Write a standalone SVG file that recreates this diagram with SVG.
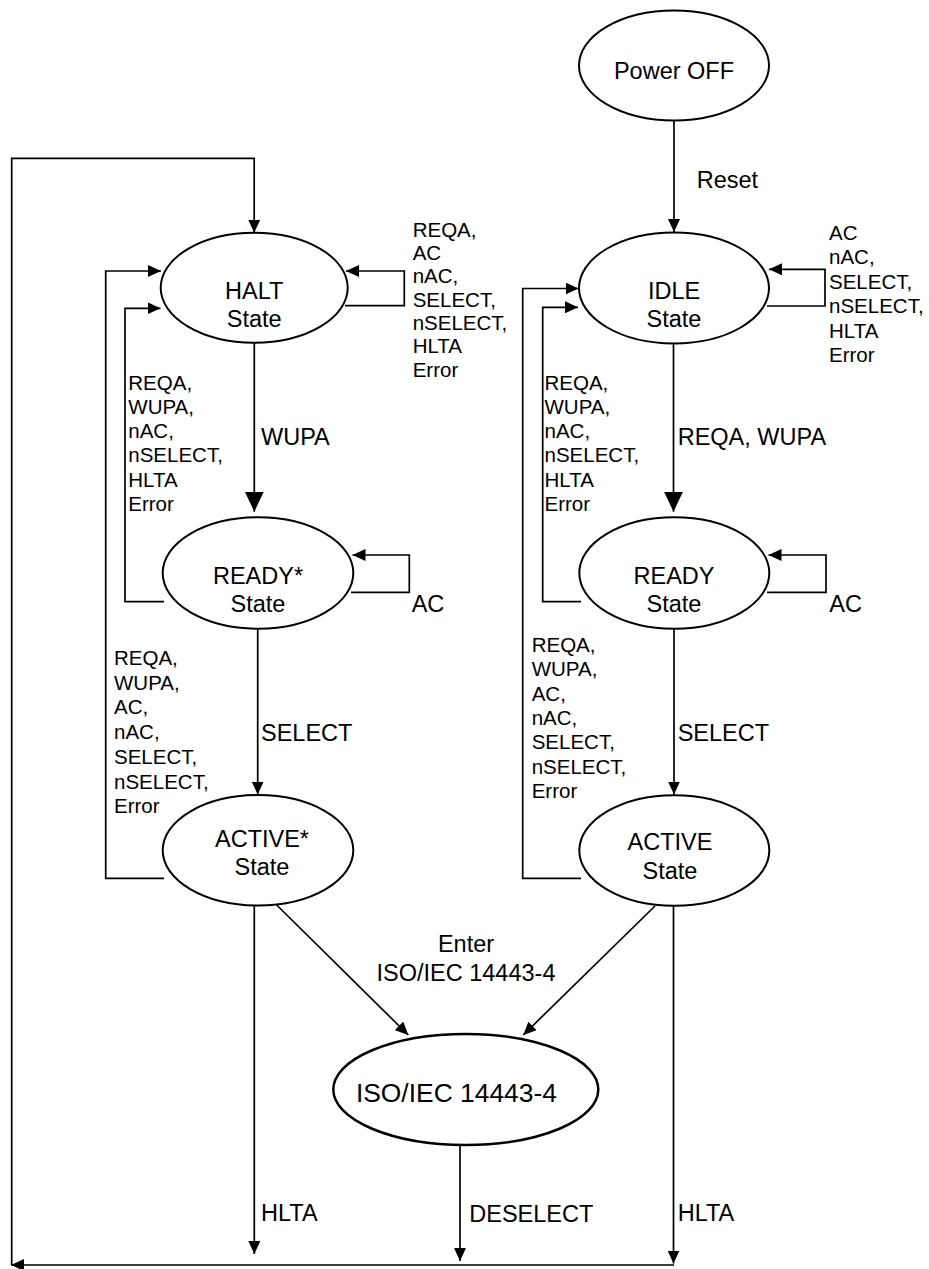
<svg xmlns="http://www.w3.org/2000/svg" width="929" height="1269" viewBox="0 0 929 1269">
<style>
.st{fill:#fff;stroke:#000;stroke-width:2}
.nt{font-family:"Liberation Sans",Arial,sans-serif;font-size:23.5px;fill:#000;text-anchor:middle}
.c{fill:none;stroke:#000;stroke-width:1.7}
.lb{font-family:"Liberation Sans",Arial,sans-serif;font-size:23.5px;fill:#000}
.ls{font-family:"Liberation Sans",Arial,sans-serif;font-size:20.5px;fill:#000}
</style>
<defs>
<marker id="ah" markerUnits="userSpaceOnUse" markerWidth="13" markerHeight="12" viewBox="0 0 13 12" refX="13" refY="6" orient="auto"><path d="M0,0 L13,6 L0,12 Z" fill="#000"/></marker>
<marker id="ahb" markerUnits="userSpaceOnUse" markerWidth="20" markerHeight="19" viewBox="0 0 20 19" refX="20" refY="9.5" orient="auto"><path d="M0,0 L20,9.5 L0,19 Z" fill="#000"/></marker>
</defs>
<rect width="929" height="1269" fill="#fff"/>

<g id="connectors">
<path class="c" d="M674,121 V232" marker-end="url(#ah)"/>
<path class="c" d="M673.5,343.5 V511.7" marker-end="url(#ahb)"/>
<path class="c" d="M254.3,342.7 V511.7" marker-end="url(#ahb)"/>
<path class="c" d="M257.7,628.7 V794.5" marker-end="url(#ah)"/>
<path class="c" d="M674,628.7 V794.5" marker-end="url(#ah)"/>
<path class="c" d="M345,305.7 H404.3 V271 H346" marker-end="url(#ah)"/>
<path class="c" d="M767,306 H825 V269.3 H769" marker-end="url(#ah)"/>
<path class="c" d="M351,592.3 H409.3 V555 H352.5" marker-end="url(#ah)"/>
<path class="c" d="M767,592.3 H826 V555 H768.5" marker-end="url(#ah)"/>
<path class="c" d="M164,601.7 H125 V308.3 H160.5" marker-end="url(#ah)"/>
<path class="c" d="M164,878.3 H105.7 V271 H161" marker-end="url(#ah)"/>
<path class="c" d="M581,601.7 H542.7 V307.3 H578" marker-end="url(#ah)"/>
<path class="c" d="M581,878.3 H522.7 V288.5 H578.5" marker-end="url(#ah)"/>
<path class="c" d="M276.7,905 L408.3,1035" marker-end="url(#ah)"/>
<path class="c" d="M655,906 L523.3,1035" marker-end="url(#ah)"/>
<path class="c" d="M254.3,906 V1254" marker-end="url(#ah)"/>
<path class="c" d="M460,1145 V1261" marker-end="url(#ah)"/>
<path class="c" d="M673.5,906 V1263.5" marker-end="url(#ah)"/>
<path class="c" d="M674,1265 H11" marker-end="url(#ah)"/>
<path class="c" d="M11.7,1265 V158.3 H254.2 V232.7" marker-end="url(#ah)"/>
</g>

<g id="labels">
<text class="lb" x="696.7" y="188">Reset</text>
<text class="lb" x="261" y="445">WUPA</text>
<text class="lb" x="677.7" y="445">REQA, WUPA</text>
<text class="lb" x="411.7" y="612.3">AC</text>
<text class="lb" x="829.3" y="612">AC</text>
<text class="lb" x="261" y="740.7">SELECT</text>
<text class="lb" x="677.7" y="740.7">SELECT</text>
<text class="lb" x="466" y="951.7" text-anchor="middle">Enter</text>
<text class="lb" x="466" y="980.7" text-anchor="middle">ISO/IEC 14443-4</text>
<text class="lb" x="261" y="1220.7">HLTA</text>
<text class="lb" x="469.3" y="1221.7">DESELECT</text>
<text class="lb" x="677.7" y="1221">HLTA</text>
<text class="ls" x="412.7" y="236.7">REQA,<tspan x="412.7" dy="23.3">AC</tspan><tspan x="412.7" dy="23.3">nAC,</tspan><tspan x="412.7" dy="23.3">SELECT,</tspan><tspan x="412.7" dy="23.3">nSELECT,</tspan><tspan x="412.7" dy="23.3">HLTA</tspan><tspan x="412.7" dy="23.3">Error</tspan></text>
<text class="ls" x="829" y="240">AC<tspan x="829" dy="24.4">nAC,</tspan><tspan x="829" dy="24.4">SELECT,</tspan><tspan x="829" dy="24.4">nSELECT,</tspan><tspan x="829" dy="24.4">HLTA</tspan><tspan x="829" dy="24.4">Error</tspan></text>
<text class="ls" x="128.3" y="389.5">REQA,<tspan x="128.3" dy="24.3">WUPA,</tspan><tspan x="128.3" dy="24.3">nAC,</tspan><tspan x="128.3" dy="24.3">nSELECT,</tspan><tspan x="128.3" dy="24.3">HLTA</tspan><tspan x="128.3" dy="24.3">Error</tspan></text>
<text class="ls" x="544.5" y="389.5">REQA,<tspan x="544.5" dy="24.3">WUPA,</tspan><tspan x="544.5" dy="24.3">nAC,</tspan><tspan x="544.5" dy="24.3">nSELECT,</tspan><tspan x="544.5" dy="24.3">HLTA</tspan><tspan x="544.5" dy="24.3">Error</tspan></text>
<text class="ls" x="114" y="665">REQA,<tspan x="114" dy="24.7">WUPA,</tspan><tspan x="114" dy="24.7">AC,</tspan><tspan x="114" dy="24.7">nAC,</tspan><tspan x="114" dy="24.7">SELECT,</tspan><tspan x="114" dy="24.7">nSELECT,</tspan><tspan x="114" dy="24.7">Error</tspan></text>
<text class="ls" x="531.7" y="651.7">REQA,<tspan x="531.7" dy="24.4">WUPA,</tspan><tspan x="531.7" dy="24.4">AC,</tspan><tspan x="531.7" dy="24.4">nAC,</tspan><tspan x="531.7" dy="24.4">SELECT,</tspan><tspan x="531.7" dy="24.4">nSELECT,</tspan><tspan x="531.7" dy="24.4">Error</tspan></text>
</g>

<g id="power-off"><ellipse class="st" cx="674" cy="65.5" rx="95" ry="55"/><text class="nt" x="674" y="79">Power OFF</text></g>
<g id="halt"><ellipse class="st" cx="254.2" cy="287.7" rx="93.5" ry="55"/><text class="nt" x="254.2" y="299">HALT</text><text class="nt" x="254.2" y="326.7">State</text></g>
<g id="idle"><ellipse class="st" cx="674" cy="288" rx="95" ry="55.5"/><text class="nt" x="674" y="299">IDLE</text><text class="nt" x="674" y="326.7">State</text></g>
<g id="ready-star"><ellipse class="st" cx="258" cy="573" rx="95.3" ry="55.7"/><text class="nt" x="258" y="584">READY*</text><text class="nt" x="258" y="611.7">State</text></g>
<g id="ready"><ellipse class="st" cx="674.3" cy="573" rx="95" ry="55.7"/><text class="nt" x="674" y="584">READY</text><text class="nt" x="674" y="612">State</text></g>
<g id="active-star"><ellipse class="st" cx="258" cy="850.3" rx="95.3" ry="55.2"/><text class="nt" x="262" y="846.7">ACTIVE*</text><text class="nt" x="262" y="875">State</text></g>
<g id="active"><ellipse class="st" cx="674.3" cy="850.5" rx="95" ry="55.3"/><text class="nt" x="670" y="850">ACTIVE</text><text class="nt" x="670" y="879.3">State</text></g>
<g id="iso"><ellipse class="st" style="stroke-width:2.5" cx="465.8" cy="1089.5" rx="132.5" ry="55.5"/><text class="nt" style="font-size:26.4px" x="456.4" y="1101.7">ISO/IEC 14443-4</text></g>
</svg>
